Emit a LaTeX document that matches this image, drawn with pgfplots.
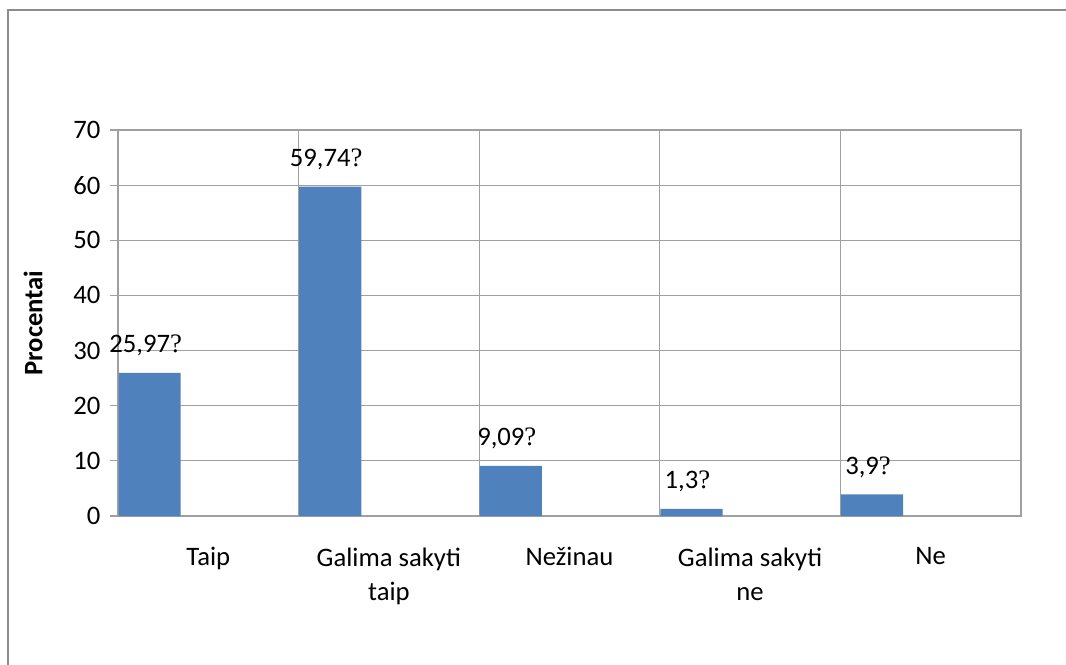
\documentclass[border=0pt]{standalone}
\usepackage{fontspec}
\setmainfont{Carlito}
\newfontfamily\qfont{Liberation Serif}
\usepackage{pgfplots}
\usepackage{pgfplotstable}
\pgfplotsset{compat=1.18}

\definecolor{barblue}{HTML}{4F81BD}
\definecolor{gridgray}{HTML}{A0A0A0}
\definecolor{framegray}{HTML}{8C8C8C}

% bars sit in the left part of each category slot
\pgfplotstableread{
x      y     label
-0.325 25.97 25,97
0.675  59.74 59,74
1.675  9.09  9,09
2.675  1.3   1,3
3.675  3.9   3,9
}\answers

\begin{document}
\begin{tikzpicture}
\useasboundingbox (0pt,0pt) rectangle (799.5pt,498pt);
\draw[framegray, line width=1.1pt] (6pt,-20pt) -- (6pt,490.5pt) -- (830pt,490.5pt);
\begin{axis}[
    at={(88.5pt,111pt)}, anchor=south west,
    scale only axis,
    width=677.25pt, height=289.5pt,
    ybar, bar width=0.3444,
    xmin=-0.5, xmax=4.5,
    ymin=0, ymax=70,
    ytick={0,10,...,70},
    ytick pos=left,
    xtick={0,...,4},
    xticklabels={Taip, {Galima sakyti\\taip}, Nežinau, {Galima sakyti\\ne}, Ne},
    minor xtick={0.5,1.5,2.5,3.5},
    xminorgrids, ymajorgrids,
    grid style={gridgray, line width=0.8pt},
    minor grid style={gridgray, line width=0.8pt},
    axis line style={gridgray, line width=0.8pt},
    tick align=outside,
    major tick length=6pt,
    minor tick length=0pt,
    xtick style={draw=none},
    ytick style={gridgray, line width=0.8pt},
    /pgf/number format/assume math mode=true,
    tick label style={font=\fontsize{20}{26}\selectfont},
    xticklabel style={align=center, anchor=north, inner sep=0pt, yshift=-17.5pt},
    yticklabel style={anchor=east, inner sep=0pt, xshift=-7pt},
    ylabel={\bfseries Procentai},
    ylabel style={font=\fontsize{20}{24}\selectfont, at={(axis description cs:-0.0941,0.5)}, anchor=center},
    nodes near coords={\pgfplotspointmeta{\qfont ?}},
    point meta=explicit symbolic,
    every node near coord/.append style={font=\fontsize{20}{24}\selectfont, anchor=base, inner sep=0pt, yshift=15pt, xshift=-3pt, text=black},
]
\addplot[fill=barblue, draw=none] table[x=x, y=y, meta=label] {\answers};
\end{axis}
\end{tikzpicture}
\end{document}
